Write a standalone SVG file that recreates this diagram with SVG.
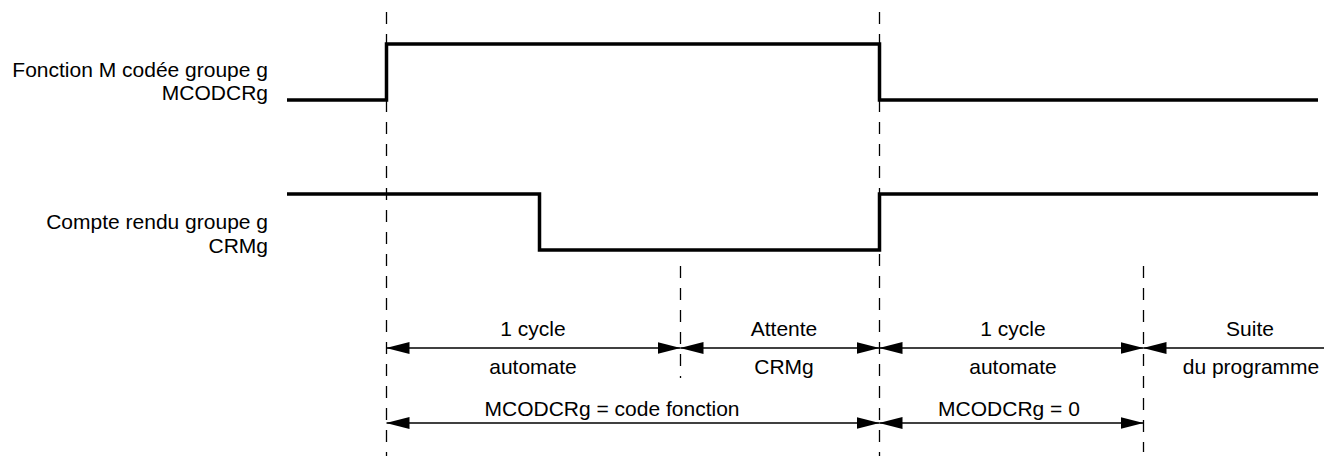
<svg xmlns="http://www.w3.org/2000/svg" width="1324" height="457" viewBox="0 0 1324 457">
<style>
text{font-family:"Liberation Sans",Arial,sans-serif;font-size:21px;fill:#000}
.lbl{text-anchor:end}
.mid{text-anchor:middle}
.sig{fill:none;stroke:#000;stroke-width:3.5;stroke-linejoin:miter;stroke-linecap:butt}
.dash{fill:none;stroke:#000;stroke-width:1.3;stroke-dasharray:12,10}
.dim{fill:none;stroke:#000;stroke-width:1.5}
</style>
<defs>
<marker id="ah" viewBox="0 0 23 12" refX="23" refY="6" markerWidth="23" markerHeight="12" markerUnits="userSpaceOnUse" orient="auto-start-reverse">
<path d="M0,0 L23,6 L0,12 Z" fill="#000"/>
</marker>
</defs>
<rect width="1324" height="457" fill="#fff"/>
<g id="guides">
<line class="dash" x1="386.5" y1="12" x2="386.5" y2="456"/>
<line class="dash" x1="879.5" y1="12" x2="879.5" y2="456"/>
<line class="dash" x1="680.5" y1="266" x2="680.5" y2="370"/>
<line class="dash" x1="680.5" y1="376" x2="680.5" y2="378"/>
<line class="dash" x1="1143.5" y1="266" x2="1143.5" y2="452"/>
</g>
<g id="signal-mcodcrg">
<text class="lbl" x="268" y="77">Fonction M codée groupe g</text>
<text class="lbl" x="268" y="100">MCODCRg</text>
<polyline class="sig" points="287,100 386.5,100 386.5,44 879.5,44 879.5,100 1318,100"/>
</g>
<g id="signal-crmg">
<text class="lbl" x="268" y="229">Compte rendu groupe g</text>
<text class="lbl" x="268" y="253">CRMg</text>
<polyline class="sig" points="287,194 539.5,194 539.5,250 879.5,250 879.5,194 1318,194"/>
</g>
<g id="connectors">
<line class="dim" x1="386.5" y1="348" x2="680.5" y2="348" marker-start="url(#ah)" marker-end="url(#ah)"/>
<line class="dim" x1="680.5" y1="348" x2="879.5" y2="348" marker-start="url(#ah)" marker-end="url(#ah)"/>
<line class="dim" x1="879.5" y1="348" x2="1143.5" y2="348" marker-start="url(#ah)" marker-end="url(#ah)"/>
<line class="dim" x1="1143.5" y1="348" x2="1324" y2="348" marker-start="url(#ah)"/>
<line class="dim" x1="386.5" y1="423" x2="879.5" y2="423" marker-start="url(#ah)" marker-end="url(#ah)"/>
<line class="dim" x1="879.5" y1="423" x2="1143.5" y2="423" marker-start="url(#ah)" marker-end="url(#ah)"/>
</g>
<g id="labels">
<text class="mid" x="533" y="336">1 cycle</text>
<text class="mid" x="533" y="374">automate</text>
<text class="mid" x="784" y="336">Attente</text>
<text class="mid" x="784" y="374">CRMg</text>
<text class="mid" x="1013" y="336">1 cycle</text>
<text class="mid" x="1013" y="374">automate</text>
<text class="mid" x="1250" y="336">Suite</text>
<text class="mid" x="1251" y="374">du programme</text>
<text class="mid" x="612" y="416">MCODCRg = code fonction</text>
<text class="mid" x="1009" y="416">MCODCRg = 0</text>
</g>
</svg>
